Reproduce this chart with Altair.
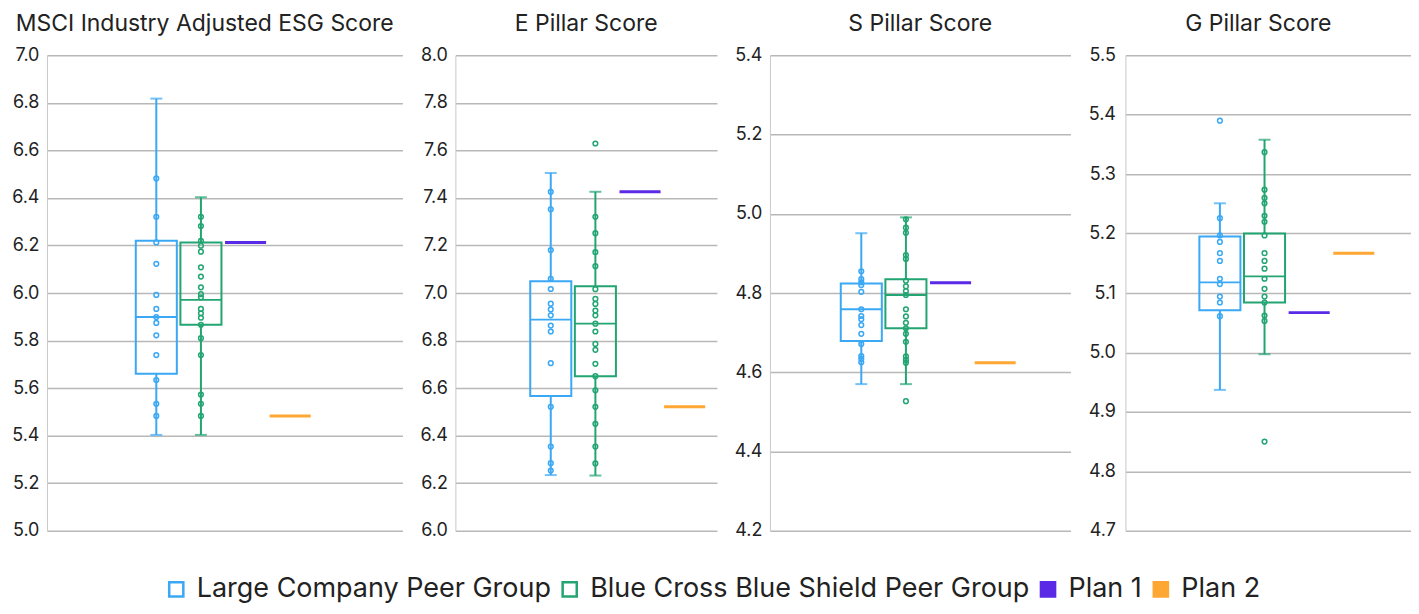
import altair as alt
import pandas as pd

# ---------------- data ----------------
panel_titles = ["MSCI Industry Adjusted ESG Score", "E Pillar Score", "S Pillar Score", "G Pillar Score"]
series = ["Large Company Peer Group", "Blue Cross Blue Shield Peer Group", "Plan 1", "Plan 2"]
groups = series[:2]
plans = series[2:]

y_domains = [[5.0, 7.0], [6.0, 8.0], [4.2, 5.4], [4.7, 5.5]]
y_steps = [0.2, 0.2, 0.2, 0.1]

# box statistics per panel: [lower whisker, q1, median, q3, upper whisker]
box_large = [
    [5.403, 5.660, 5.899, 6.220, 6.818],
    [6.234, 6.567, 6.888, 7.050, 7.505],
    [4.570, 4.679, 4.759, 4.824, 4.951],
    [4.937, 5.071, 5.118, 5.195, 5.251],
]
box_bcbs = [
    [5.403, 5.866, 5.971, 6.213, 6.403],
    [6.232, 6.650, 6.871, 7.028, 7.426],
    [4.570, 4.711, 4.795, 4.835, 4.991],
    [4.997, 5.084, 5.128, 5.200, 5.358],
]

# individual company scores
pts_large = [
    [6.482, 6.321, 6.213, 6.123, 5.992, 5.933, 5.899, 5.874, 5.822, 5.739, 5.634, 5.534, 5.483],
    [7.426, 7.352, 7.181, 7.060, 7.017, 6.955, 6.931, 6.906, 6.863, 6.838, 6.705, 6.521, 6.354, 6.284, 6.253],
    [4.855, 4.835, 4.827, 4.820, 4.803, 4.759, 4.742, 4.734, 4.719, 4.697, 4.671, 4.641, 4.634, 4.625],
    [5.390, 5.226, 5.197, 5.186, 5.167, 5.154, 5.124, 5.115, 5.094, 5.084, 5.061],
]
pts_bcbs = [
    [6.321, 6.282, 6.220, 6.199, 6.174, 6.108, 6.069, 6.024, 5.995, 5.982, 5.933, 5.915, 5.896,
     5.866, 5.810, 5.739, 5.573, 5.534, 5.483],
    [7.629, 7.321, 7.252, 7.172, 7.113, 7.016, 6.975, 6.954, 6.926, 6.906, 6.871, 6.838, 6.786,
     6.761, 6.702, 6.650, 6.591, 6.521, 6.450, 6.354, 6.283],
    [4.986, 4.965, 4.952, 4.896, 4.886, 4.831, 4.817, 4.805, 4.795, 4.759, 4.741, 4.725, 4.711,
     4.697, 4.677, 4.640, 4.631, 4.624, 4.527],
    [5.337, 5.274, 5.260, 5.251, 5.230, 5.220, 5.197, 5.167, 5.154, 5.141, 5.124, 5.107, 5.094,
     5.084, 5.062, 5.053, 4.850],
]

plan1_scores = [6.213, 7.426, 4.826, 5.067]
plan2_scores = [5.483, 6.521, 4.624, 5.167]

# ---------------- styling ----------------
colors = ["#3aa8f5", "#22a572", "#5a2ae6", "#ffa733"]
fills = ["transparent", "transparent", colors[2], colors[3]]
FONT = "Inter"
TEXT = "#222222"
GRID = "#b8b8b8"

widths = [356, 262, 301, 286]
pad_outer = [0.516, 0.368, 0.503, 0.448]
aligns = [0.492, 0.675, 0.47, 0.548]
label_pads = [8, 8, 8, 10]
title_dx = [-20, 0, 0, -10]

group_color = alt.Scale(domain=groups, range=colors[:2])
legend = alt.Legend(title=None, orient="none", legendX=116, legendY=521,
                    direction="horizontal", symbolType="square", symbolSize=200,
                    symbolStrokeWidth=2.5, labelFontSize=27, labelFont=FONT,
                    labelColor=TEXT, columnPadding=5, labelOffset=7, labelLimit=700)


def panel(i):
    box_rows = []
    for s, stats in zip(groups, [box_large[i], box_bcbs[i]]):
        lo, q1, med, q3, hi = stats
        box_rows.append(dict(g="all", series=s, lo=lo, q1=q1, med=med, q3=q3, hi=hi))
    box_df = pd.DataFrame(box_rows)

    pt_rows = [dict(g="all", series=groups[0], value=v) for v in pts_large[i]]
    pt_rows += [dict(g="all", series=groups[1], value=v) for v in pts_bcbs[i]]
    pt_df = pd.DataFrame(pt_rows)

    plan_df = pd.DataFrame([
        dict(g="all", series=plans[0], value=plan1_scores[i]),
        dict(g="all", series=plans[1], value=plan2_scores[i]),
    ])

    x = alt.X("g:N", scale=alt.Scale(paddingInner=0, paddingOuter=pad_outer[i], align=aligns[i]),
              axis=None)
    xo = alt.XOffset("series:N", scale=alt.Scale(domain=series, paddingInner=0.08, paddingOuter=0))
    yscale = alt.Scale(domain=y_domains[i], nice=False, zero=False)
    lo_d, hi_d = y_domains[i]
    n = int(round((hi_d - lo_d) / y_steps[i]))
    ticks = [round(lo_d + k * y_steps[i], 2) for k in range(n + 1)]
    yaxis = alt.Axis(values=ticks, format=".1f", title=None, grid=True,
                     gridColor=GRID, gridWidth=1.5, domain=True, domainColor="#c8c8c8",
                     domainWidth=1, ticks=False, labelPadding=label_pads[i],
                     labelFontSize=18, labelFont=FONT, labelColor=TEXT)
    col = alt.Color("series:N", scale=group_color, legend=None)
    stroke = alt.Stroke("series:N", scale=alt.Scale(domain=series, range=colors), legend=legend)
    fill = alt.Fill("series:N", scale=alt.Scale(domain=series, range=fills), legend=legend)

    base_box = alt.Chart(box_df)
    whisk_low = base_box.mark_rule(strokeWidth=2).encode(
        x=x, xOffset=xo, y=alt.Y("lo:Q", scale=yscale, axis=yaxis), y2="q1:Q", color=col)
    whisk_high = base_box.mark_rule(strokeWidth=2).encode(
        x=x, xOffset=xo, y=alt.Y("q3:Q"), y2="hi:Q", color=col)
    cap_low = base_box.mark_tick(size=12, thickness=2).encode(
        x=x, xOffset=xo, y="lo:Q", color=col)
    cap_high = base_box.mark_tick(size=12, thickness=2).encode(
        x=x, xOffset=xo, y="hi:Q", color=col)
    box = base_box.mark_bar(strokeWidth=2, opacity=1).encode(
        x=x, xOffset=xo, y="q1:Q", y2="q3:Q", stroke=stroke, fill=fill)
    median = base_box.mark_bar(filled=False, strokeWidth=1.8).encode(
        x=x, xOffset=xo, y="med:Q", y2="med:Q", color=col)

    points = alt.Chart(pt_df).mark_point(shape="circle", filled=False, size=22,
                                         strokeWidth=1.5, opacity=1).encode(
        x=x, xOffset=xo, y="value:Q", color=col)

    plan_lines = alt.Chart(plan_df).mark_bar(strokeWidth=3, opacity=1).encode(
        x=x, xOffset=xo, y="value:Q", y2="value:Q", stroke=stroke, fill=fill)

    layers = [whisk_low, whisk_high, box, median, cap_low, cap_high, points, plan_lines]

    return alt.layer(*layers).properties(
        width=widths[i], height=476,
        title=alt.Title(panel_titles[i], fontSize=23, font=FONT, fontWeight="normal",
                        color=TEXT, anchor="middle", frame="group", offset=10, dx=title_dx[i]),
    )


chart = alt.hconcat(*[panel(i) for i in range(4)], spacing=17).properties(
    padding={"left": 3, "top": 5, "right": 0, "bottom": 0},
    background="white",
).configure_view(stroke=None)

chart.save("out.html", embed_options={"renderer": "svg", "actions": False})
